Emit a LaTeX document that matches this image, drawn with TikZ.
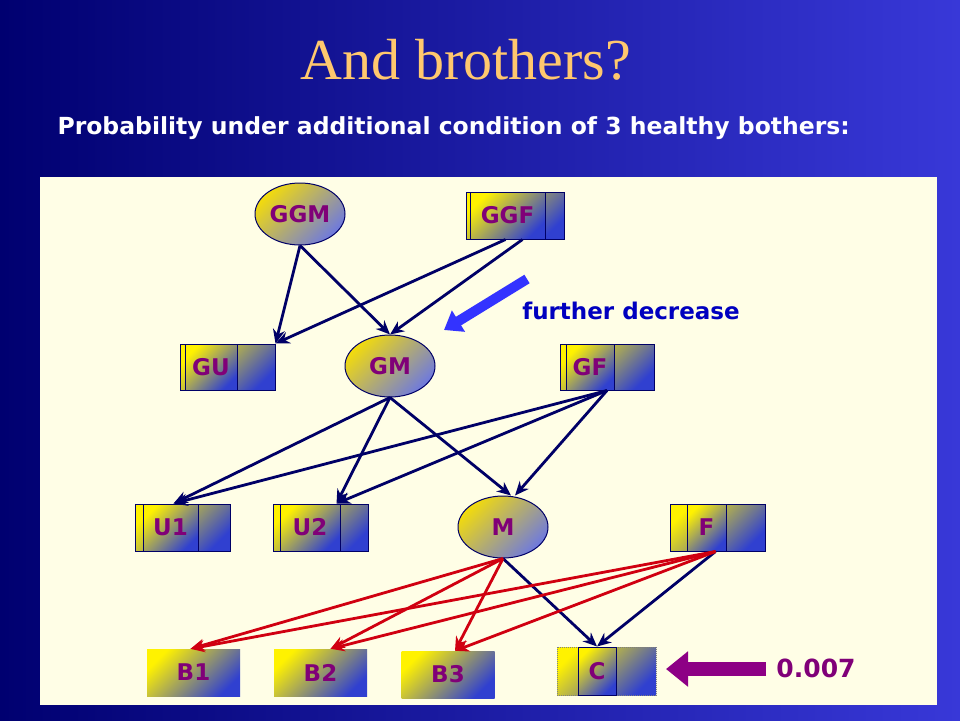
\documentclass[tikz,border=0pt]{standalone}
\usepackage{fontspec}
\setmainfont{Liberation Serif}
\newfontfamily\lab{DejaVu Sans}
\usetikzlibrary{shapes.geometric,arrows.meta}
\definecolor{navy}{HTML}{000066}
\definecolor{bgl}{HTML}{000070}
\definecolor{bgr}{HTML}{3838D8}
\definecolor{ylw}{HTML}{FFF200}
\definecolor{blu}{HTML}{3040D0}
\definecolor{pur}{HTML}{800078}
\definecolor{redc}{HTML}{D00010}
\tikzset{
 lfont/.style={font=\lab\bfseries\fontsize{23}{23}\selectfont},
 grad/.style={top color=ylw, bottom color=blu, shading angle=45},
 outerbox/.style={grad, draw=navy, line width=1pt, minimum height=#1, inner sep=0pt},
 innerbox/.style={grad, draw=navy, line width=1pt, minimum height=#1, inner sep=0pt, text=pur, lfont},
 plainbox/.style={grad, minimum width=93pt, minimum height=47pt, inner sep=0pt, text=pur, lfont},
 ell/.style={ellipse, top color=ylw!80!brown, bottom color=blu!70!white, shading angle=45, draw=navy, line width=1pt, minimum width=90pt, minimum height=62pt, inner sep=0pt, text=pur, lfont},
 edge/.style={draw=navy, line width=2.8pt, -{Stealth[length=14pt,width=12pt]}},
 redge/.style={draw=redc, line width=2.8pt, -{Stealth[length=14pt,width=12pt]}},
}
\begin{document}
\begin{tikzpicture}[x=1pt,y=-1pt]
\shade[left color=bgl, right color=bgr] (0,0) rectangle (960,720);
\fill[yellow!10!white] (40,177) rectangle (937,705);
\node[text={rgb,255:red,255;green,200;blue,110}, font=\fontsize{58}{58}\selectfont] (title) at (466,60) {And brothers?};
\node[text=white, font=\lab\bfseries\fontsize{23.5}{23.5}\selectfont, anchor=west] (sub) at (54,128) {Probability under additional condition of 3 healthy bothers:};
% nodes
\node[ell] (GGM) at (300,214) {GGM};
\node[outerbox=47pt, minimum width=98pt] (GGF) at (515,215.5) {};
\node[innerbox=47pt, minimum width=75pt] (GGFi) at (507.5,215.5) {GGF};
\node[outerbox=46pt, minimum width=95pt] (GU) at (227.5,367) {};
\node[innerbox=46pt, minimum width=52pt] (GUi) at (211,367) {GU};
\node[ell] (GM) at (390,366) {GM};
\node[outerbox=46pt, minimum width=94pt] (GF) at (607,367) {};
\node[innerbox=46pt, minimum width=48pt] (GFi) at (590,367) {GF};
\node[outerbox=47pt, minimum width=95pt] (U1) at (182.5,527.5) {};
\node[innerbox=47pt, minimum width=55pt] (U1i) at (170.5,527.5) {U1};
\node[outerbox=47pt, minimum width=95pt] (U2) at (320.5,527.5) {};
\node[innerbox=47pt, minimum width=60pt] (U2i) at (310,527.5) {U2};
\node[ell] (M) at (503,527) {M};
\node[outerbox=47pt, minimum width=95pt] (F) at (717.5,527.5) {};
\node[innerbox=47pt, minimum width=39pt] (Fi) at (706.5,527.5) {F};
\node[plainbox] (B1) at (193.5,672.5) {B1};
\node[plainbox] (B2) at (320.5,672.5) {B2};
\node[plainbox] (B3) at (448,674.5) {B3};
\node[outerbox=48pt, minimum width=99pt, draw=gray, densely dotted, line width=0.6pt] (C) at (606.5,671) {};
\node[innerbox=48pt, minimum width=38pt] (Ci) at (597,671) {C};
% edges
\draw[edge] (GGM.south) -- (GU.north east);
\draw[edge] (GGM.south) -- (GM.north);
\draw[edge] ([xshift=-2pt]GGFi.south) -- (GU.north east);
\draw[edge] ([xshift=15pt]GGFi.south) -- (GM.north);
\draw[edge] (GM.south) -- ([xshift=-25pt]U1i.north east);
\draw[edge] (GM.south) -- ([xshift=16pt]U2.north);
\draw[edge] (GM.south) -- ([xshift=8pt]M.north);
\draw[edge] (GF.south) -- ([xshift=-25pt]U1i.north east);
\draw[edge] (GF.south) -- ([xshift=16pt]U2.north);
\draw[edge] (GF.south) -- ([xshift=12pt]M.north);
\draw[edge] (M.south) -- (Ci.north);
\draw[edge] ([xshift=-2pt]F.south) -- (Ci.north);
\foreach \b/\d in {B1/-3,B2/10,B3/7} {
 \draw[redge] (M.south) -- ([xshift=\d pt]\b.north);
 \draw[redge] ([xshift=-2pt]F.south) -- ([xshift=\d pt]\b.north);
}
% annotations
\coordinate (a1) at (527,279);
\coordinate (a2) at (444,330);
\draw[line width=10pt, draw=blue!80!white, -{Triangle[length=17pt,width=24pt]}] (a1) -- (a2);
\node[text=blue!75!black, font=\lab\bfseries\fontsize{23}{23}\selectfont] (fd) at (631,311) {further decrease};
\coordinate (p1) at (766,669);
\coordinate (p2) at (666,669);
\draw[line width=14pt, draw=pur!90!magenta, -{Triangle[length=22pt,width=34pt]}] (p1) -- (p2);
\node[text=pur, font=\lab\bfseries\fontsize{25}{25}\selectfont] (val) at (816,668) {0.007};
\end{tikzpicture}
\end{document}
